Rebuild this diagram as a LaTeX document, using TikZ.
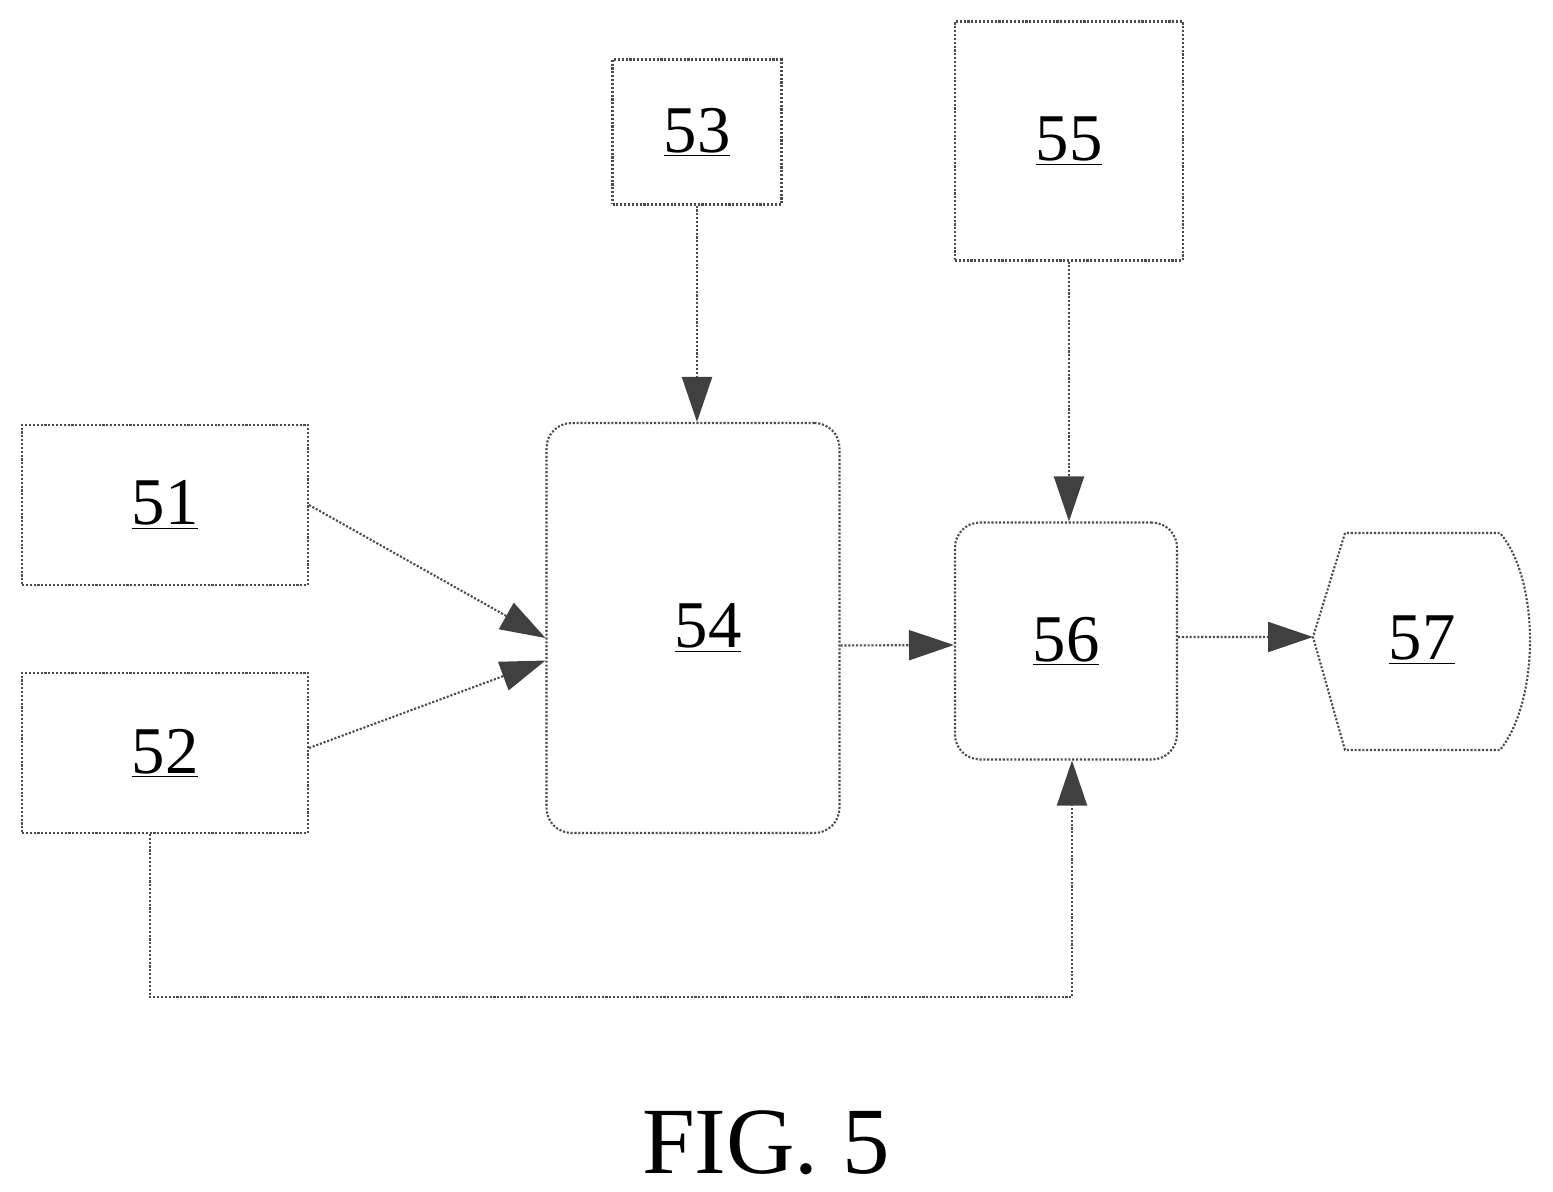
\documentclass[tikz,border=0pt]{standalone}
\usepackage{fontspec}
\setmainfont{Liberation Serif}
\usepackage{tikz}
\usetikzlibrary{arrows.meta,positioning}
\begin{document}
\begin{tikzpicture}[x=0.02cm, y=-0.02cm,
    blk/.style={draw=black!70, densely dotted, line width=1.2pt, inner sep=0pt},
    rblk/.style={blk, rounded corners=0.5cm},
    lbl/.style={font=\fontsize{38}{40}\selectfont},
    conn/.style={draw=black!70, densely dotted, line width=1.2pt,
        -{Triangle[length=0.9cm, width=0.6cm, color=black!75, fill=black!75]}}
  ]
  \useasboundingbox (0,0) rectangle (1553,1192);
  % boxes
  \node[blk, minimum width=5.72cm, minimum height=3.2cm] (b51) at (165,505) {};
  \node[blk, minimum width=5.72cm, minimum height=3.2cm] (b52) at (165,753) {};
  \node[blk, minimum width=3.38cm, minimum height=2.9cm] (b53) at (697,132) {};
  \node[rblk, minimum width=5.86cm, minimum height=8.2cm] (b54) at (693,628) {};
  \node[blk, minimum width=4.56cm, minimum height=4.78cm] (b55) at (1069,141) {};
  \node[rblk, minimum width=4.44cm, minimum height=4.74cm] (b56) at (1066,641) {};
  \draw[blk] (1345,533) -- (1313,637) coordinate (c57) -- (1345,750) -- (1500,750)
    .. controls (1540,700) and (1540,580) .. (1500,533) -- cycle;
  % labels
  \node[lbl] (t51) at (b51) {\underline{51}};
  \node[lbl] (t52) at (b52) {\underline{52}};
  \node[lbl] (t53) at (b53) {\underline{53}};
  \node[lbl] (t54) at ([xshift=0.3cm]b54) {\underline{54}};
  \node[lbl] (t55) at (b55) {\underline{55}};
  \node[lbl] (t56) at (b56) {\underline{56}};
  \node[lbl] (t57) at (1422,640) {\underline{57}};
  % connectors
  \draw[conn] (b51.east) -- ([yshift=-0.2cm]b54.west);
  \draw[conn] ([yshift=0.1cm]b52.east) -- ([yshift=-0.65cm]b54.west);
  \draw[conn] (b53.south) -- (b54.north -| b53.south);
  \draw[conn] (b55.south) -- (b56.north -| b55.south);
  \draw[conn] ([yshift=-0.35cm]b54.east) -- ([yshift=-0.08cm]b56.west);
  \draw[conn] ([yshift=0.08cm]b56.east) -- (c57);
  \draw[conn] (b52.south -| 150,0) |- (1072,997) -- (b56.south -| 1072,0);
  \node[font=\fontsize{54}{58}\selectfont] (fig) at (766,1143) {FIG. 5};
\end{tikzpicture}
\end{document}
